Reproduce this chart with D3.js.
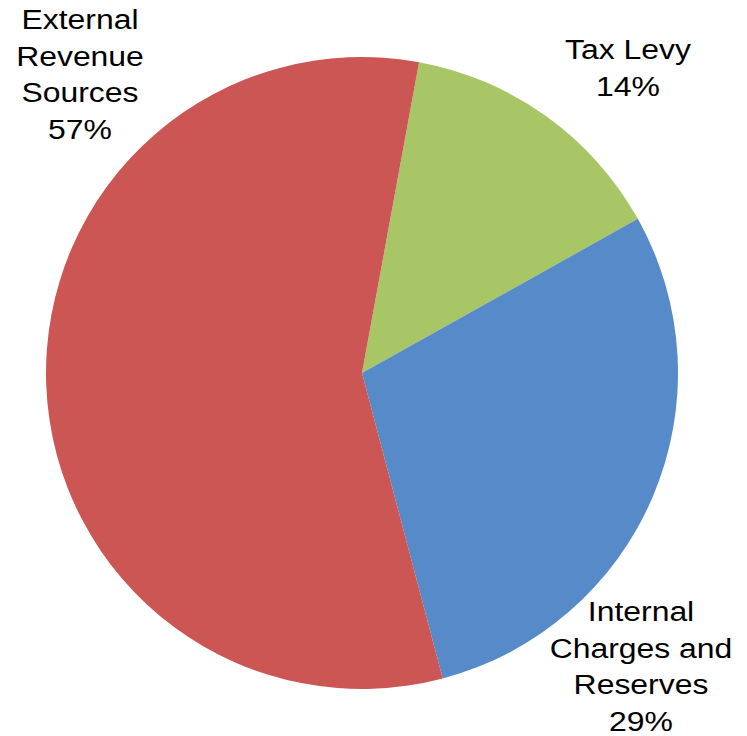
<!DOCTYPE html>
<html>
<head>
<meta charset="utf-8">
<script src="https://cdn.jsdelivr.net/npm/d3@7"></script>
<style>
  html, body { margin: 0; padding: 0; background: #fff; }
  svg { display: block; }
</style>
</head>
<body>
<svg id="chart" width="747" height="736"></svg>
<script>
// Funding sources, clockwise from the top
const categories = ["Tax Levy", "Internal Charges and Reserves", "External Revenue Sources"];
const labelLines = [["Tax Levy"], ["Internal", "Charges and", "Reserves"], ["External", "Revenue", "Sources"]];
const shares = [14, 29, 57];
const colors = ["#A8C665", "#568AC9", "#CB5653"];

const width = 747, height = 736;
const cx = 362, cy = 373, radius = 316;
const startOffset = 10.4 * Math.PI / 180;

const svg = d3.select("#chart");
const g = svg.append("g").attr("transform", `translate(${cx},${cy})`);

const pie = d3.pie()
  .value(d => d)
  .sort(null)
  .startAngle(startOffset)
  .endAngle(startOffset + 2 * Math.PI);

const arc = d3.arc().innerRadius(0).outerRadius(radius);

const arcs = pie(shares);

g.selectAll("path.slice")
  .data(arcs)
  .join("path")
  .attr("class", "slice")
  .attr("d", arc)
  .attr("fill", (d, i) => colors[i]);

// Outside labels: category name lines followed by the percentage
const labelPos = [
  { x: 628, y: 59 },   // Tax Levy
  { x: 641, y: 621 },  // Internal Charges and Reserves
  { x: 80, y: 29 }     // External Revenue Sources
];
const lineHeight = 36.6;
const stretch = 1.14;  // labels are set slightly wide

categories.forEach((c, i) => {
  const lines = labelLines[i].concat([shares[i] + "%"]);
  const t = svg.append("text")
    .attr("transform", `translate(${labelPos[i].x},${labelPos[i].y}) scale(${stretch},1)`)
    .attr("text-anchor", "middle")
    .attr("font-family", "'Liberation Sans', Arial, sans-serif")
    .attr("font-size", 28)
    .attr("fill", "#000");
  lines.forEach((ln, k) => {
    t.append("tspan")
      .attr("x", 0)
      .attr("y", k * lineHeight)
      .text(ln);
  });
});
</script>
</body>
</html>
